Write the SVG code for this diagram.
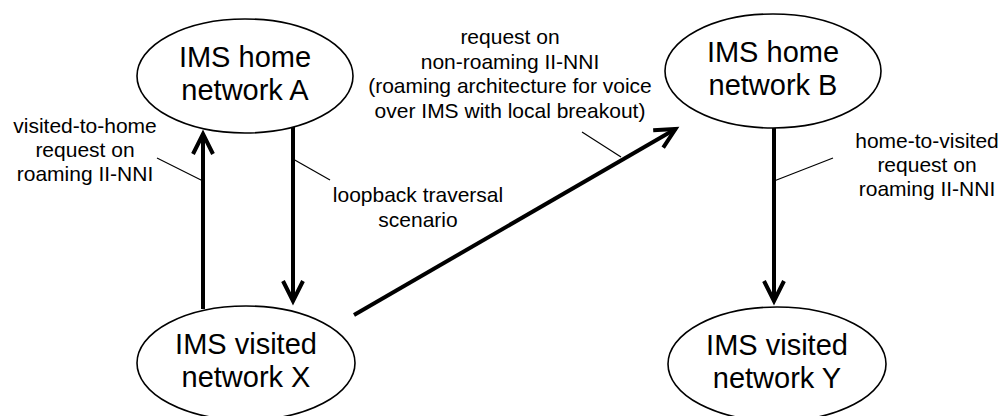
<svg xmlns="http://www.w3.org/2000/svg" width="1002" height="416" viewBox="0 0 1002 416">
<style>
.node ellipse{fill:#fff;stroke:#000;stroke-width:1.6}
.big{font-family:"Liberation Sans",Arial,sans-serif;font-size:29px;fill:#000;text-anchor:middle}
.lbl{font-family:"Liberation Sans",Arial,sans-serif;font-size:21px;fill:#000;text-anchor:middle}
.arrow{stroke:#000;stroke-width:4;fill:none;marker-end:url(#head)}
.leader{stroke:#000;stroke-width:1.2;fill:none}
</style>
<defs>
<marker id="head" markerUnits="userSpaceOnUse" orient="auto" refX="0" refY="0" markerWidth="40" markerHeight="40" viewBox="-30 -15 40 30" overflow="visible">
<path d="M-20,-10 L0,0 L-20,10" fill="none" stroke="#000" stroke-width="4" stroke-linejoin="miter"/>
</marker>
</defs>
<rect width="1002" height="416" fill="#fff"/>
<g id="nodeA" class="node">
<ellipse cx="245" cy="76" rx="108" ry="57"/>
<text class="big" x="245" y="67">IMS home</text>
<text class="big" x="245" y="100">network A</text>
</g>
<g id="nodeB" class="node">
<ellipse cx="773" cy="71" rx="108" ry="57"/>
<text class="big" x="773" y="62">IMS home</text>
<text class="big" x="773" y="95">network B</text>
</g>
<g id="nodeX" class="node">
<ellipse cx="246" cy="363" rx="109" ry="57"/>
<text class="big" x="246" y="354">IMS visited</text>
<text class="big" x="246" y="387">network X</text>
</g>
<g id="nodeY" class="node">
<ellipse cx="777" cy="364" rx="109" ry="57"/>
<text class="big" x="777" y="355">IMS visited</text>
<text class="big" x="777" y="388">network Y</text>
</g>
<g id="connectors">
<line class="arrow" x1="203" y1="309" x2="203" y2="134"/>
<line class="arrow" x1="293" y1="127" x2="293" y2="301"/>
<line class="arrow" x1="774" y1="128" x2="774" y2="301"/>
<line class="arrow" x1="354" y1="315" x2="675.5" y2="129"/>
<line class="leader" x1="157" y1="158" x2="203" y2="181"/>
<line class="leader" x1="293" y1="159" x2="330" y2="180"/>
<line class="leader" x1="582" y1="132" x2="621" y2="157"/>
<line class="leader" x1="774" y1="181" x2="833" y2="158"/>
</g>
<g id="labels">
<text class="lbl" x="85" y="133">visited-to-home</text>
<text class="lbl" x="85" y="157">request on</text>
<text class="lbl" x="85" y="181">roaming II-NNI</text>
<text class="lbl" x="418" y="202">loopback traversal</text>
<text class="lbl" x="418" y="227">scenario</text>
<text class="lbl" x="510" y="44">request on</text>
<text class="lbl" x="510" y="68.5">non-roaming II-NNI</text>
<text class="lbl" x="510" y="93">(roaming architecture for voice</text>
<text class="lbl" x="510" y="117.5">over IMS with local breakout)</text>
<text class="lbl" x="927" y="148">home-to-visited</text>
<text class="lbl" x="927" y="172">request on</text>
<text class="lbl" x="927" y="196">roaming II-NNI</text>
</g>
</svg>
